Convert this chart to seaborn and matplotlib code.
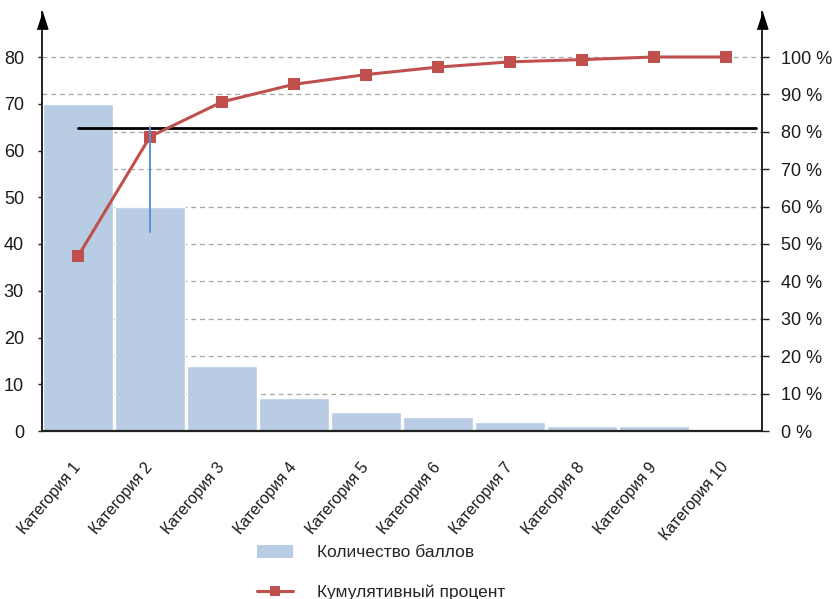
import matplotlib
matplotlib.use("Agg")
import matplotlib.pyplot as plt
from matplotlib.lines import Line2D
from matplotlib.patches import Patch
import seaborn as sns
import pandas as pd

categories = ["Категория 1", "Категория 2", "Категория 3", "Категория 4", "Категория 5",
              "Категория 6", "Категория 7", "Категория 8", "Категория 9", "Категория 10"]
scores = [70, 48, 14, 7, 4, 3, 2, 1, 1, 0]
cumulative_pct = [46.7, 78.7, 88.0, 92.7, 95.3, 97.3, 98.7, 99.3, 100.0, 100.0]
left_ticks = [0, 10, 20, 30, 40, 50, 60, 70, 80]
right_ticks = [0, 10, 20, 30, 40, 50, 60, 70, 80, 90, 100]
threshold_pct = 81.0
cat2_range = [53.1, 81.3]

bar_label = "Количество баллов"
line_label = "Кумулятивный процент"

BAR_COLOR = "#b8cce4"
LINE_COLOR = "#c0504d"
AXIS_COLOR = "#222222"
TEXT_COLOR = "#1a1a1a"

sns.set_style("white")
plt.rcParams["font.family"] = ["Liberation Sans", "DejaVu Sans"]

df = pd.DataFrame({"category": categories, "score": scores,
                   "pos": range(len(categories)), "cum": cumulative_pct})

fig = plt.figure(figsize=(8.33, 5.99), dpi=100)
ax = fig.add_axes([42 / 833, 168 / 599, 720 / 833, 419 / 599])

left_top = 80 * 419 / 374
right_top = 100 * 419 / 374

# dashed grid at every 10 % of the cumulative scale
for p in right_ticks[1:]:
    ax.axhline(p * 0.8, color="#a6a6a6", lw=0.9, ls=(0, (4, 3)), zorder=0)

sns.barplot(data=df, x="category", y="score", color=BAR_COLOR, saturation=1,
            width=0.97, edgecolor="white", linewidth=1.0, ax=ax, zorder=2)

ax.set_xlim(-0.5, len(categories) - 0.5)
ax.set_ylim(0, left_top)
ax.set_xlabel("")
ax.set_ylabel("")

ax2 = ax.twinx()
ax2.set_ylim(0, right_top)
ax2.plot([0, 9.42], [threshold_pct, threshold_pct], color="black", lw=2.0, zorder=3)
sns.lineplot(data=df, x="pos", y="cum", color=LINE_COLOR, lw=2.2, marker="s",
             markersize=9, markeredgewidth=0, ax=ax2, zorder=4)
ax2.plot([1, 1], cat2_range, color="#5b8fd4", lw=1.4, zorder=5)
ax2.set_xlim(-0.5, len(categories) - 0.5)
ax2.set_xlabel("")
ax2.set_ylabel("")

# spines
ax.spines["top"].set_visible(False)
ax2.spines["top"].set_visible(False)
ax.spines["right"].set_visible(False)
ax2.spines["left"].set_visible(False)
ax2.spines["bottom"].set_visible(False)
ax.spines["left"].set_color(AXIS_COLOR)
ax.spines["left"].set_linewidth(1.4)
ax.spines["bottom"].set_color(AXIS_COLOR)
ax.spines["bottom"].set_linewidth(1.6)
ax2.spines["right"].set_color(AXIS_COLOR)
ax2.spines["right"].set_linewidth(1.4)

# arrow heads on both vertical axes (tip sits at the top of the spine)
arrow = [(-0.32, -1.0), (0.32, -1.0), (0.0, 0.0)]
for xa in (0, 1):
    ax2.plot(xa, 1.0, marker=arrow, markersize=24, color="black",
             transform=ax2.transAxes, clip_on=False, zorder=10)

# left ticks
ax.set_yticks(left_ticks)
ax.set_yticklabels([str(t) for t in left_ticks], fontsize=13, color=TEXT_COLOR)
ax.tick_params(axis="y", direction="out", length=3, width=1, pad=10, color=AXIS_COLOR)

# right ticks
ax2.set_yticks(right_ticks)
ax2.set_yticklabels([f"{t} %" for t in right_ticks], fontsize=13, color=TEXT_COLOR)
ax2.tick_params(axis="y", direction="out", length=5, width=1, pad=9, color=AXIS_COLOR)

# x ticks: marks at category boundaries, labels at centers
ax.set_xticks([i - 0.5 for i in range(len(categories) + 1)])
ax.set_xticklabels([])
ax.tick_params(axis="x", which="major", direction="out", length=6, width=1.2, color=AXIS_COLOR)
ax.set_xticks(range(len(categories)), minor=True)
ax.set_xticklabels(categories, minor=True, rotation=50, ha="right",
                   rotation_mode="anchor", fontsize=11.5, color=TEXT_COLOR)
ax.tick_params(axis="x", which="minor", length=0, pad=24)
for lbl in ax.get_xticklabels(minor=True):
    lbl.set_va("center")
ax2.set_xticks([])

handles = [
    Patch(facecolor=BAR_COLOR, edgecolor="none"),
    Line2D([], [], color=LINE_COLOR, lw=2.2, marker="s", markersize=7, markeredgewidth=0),
]
fig.legend(handles, [bar_label, line_label], loc="upper left",
           bbox_to_anchor=(248 / 833, 1 - 536 / 599), frameon=False, borderpad=0,
           handlelength=2.1, handleheight=0.8, handletextpad=1.35, labelspacing=1.4,
           prop={"size": 12.5})

fig.savefig("out.png", dpi=100)
